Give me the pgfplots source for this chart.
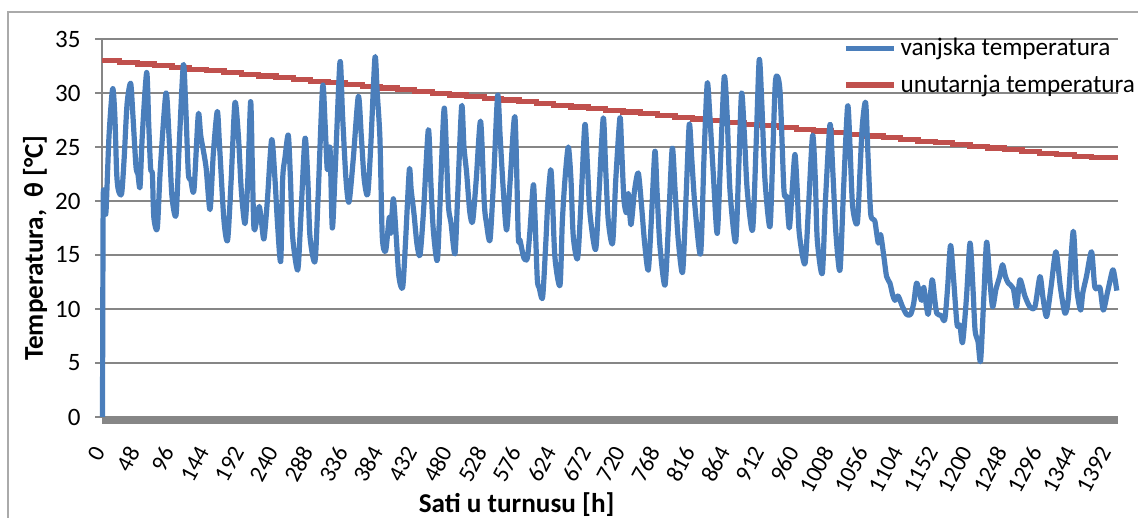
\documentclass[border=0pt]{standalone}
\usepackage{fontspec}
\setmainfont{Carlito}
\usepackage{pgfplots}
\pgfplotsset{compat=1.18}
\definecolor{cblue}{HTML}{4A7EBB}
\definecolor{cred}{HTML}{C0504D}
\definecolor{cgrid}{HTML}{868686}
\begin{document}
\begin{tikzpicture}
\useasboundingbox (0,0) rectangle (569pt,259pt);
\begin{axis}[
  at={(51.25pt,50.5pt)}, anchor=south west,
  scale only axis, width=507.5pt, height=189pt,
  xmin=0, xmax=1404, ymin=0, ymax=35,
  axis lines*=left,
  x axis line style={draw=cgrid, line width=3.6pt, yshift=-1.8pt},
  y axis line style={draw=cgrid, line width=1pt},
  ytick={0,5,...,35},
  xtick={0,48,...,1392},
  ymajorgrids,
  grid style={draw=cgrid, line width=1pt},
  tick align=outside,
  major tick length=3.5pt,
  xtick style={draw=none},
  ytick style={draw=cgrid, line width=1pt},
  /pgf/number format/assume math mode=true,
  /pgf/number format/1000 sep={},
  yticklabel style={font=\fontsize{12.5}{14}\selectfont, text=black, xshift=-4pt},
  xticklabel style={font=\fontsize{11.8}{13}\selectfont, text=black, rotate=62, anchor=east},
  xticklabel shift=9pt,
  xlabel={\textbf{Sati u turnusu [h]}},
  ylabel={\textbf{Temperatura,\ \ θ [°C]}},
  label style={font=\fontsize{13.6}{15}\selectfont},
  xlabel style={at={(axis description cs:0.408,0)}, anchor=center, yshift=-44pt},
  ylabel style={at={(axis description cs:-0.0665,0.447)}, anchor=center},
  legend style={at={(axis description cs:0.7295,1.0135)}, anchor=north west,
    draw=none, fill=none, row sep=4pt, inner sep=0pt,
    font=\fontsize{12.6}{15}\selectfont},
  legend cell align=left,
  reverse legend,
  legend image code/.code={\draw[#1, line width=2.6pt] (0pt,0pt) -- (24pt,0pt);},
  clip=false,
]
\addplot[cred, line width=2.6pt, const plot] coordinates {
(0,33.00) (24,32.84) (48,32.68) (72,32.52) (96,32.36) (120,32.21) (144,32.05) (168,31.89)
(192,31.73) (216,31.57) (240,31.41) (264,31.25) (288,31.09) (312,30.94) (336,30.78) (360,30.62)
(384,30.46) (408,30.30) (432,30.14) (456,29.98) (480,29.82) (504,29.67) (528,29.51) (552,29.35)
(576,29.19) (600,29.03) (624,28.87) (648,28.71) (672,28.55) (696,28.39) (720,28.24) (744,28.08)
(768,27.92) (792,27.76) (816,27.60) (840,27.44) (864,27.28) (888,27.12) (912,26.97) (936,26.81)
(960,26.65) (984,26.49) (1008,26.33) (1032,26.17) (1056,26.01) (1080,25.85) (1104,25.70) (1128,25.54)
(1152,25.38) (1176,25.22) (1200,25.06) (1224,24.90) (1248,24.74) (1272,24.58) (1296,24.43) (1320,24.27)
(1344,24.11) (1368,24.00) (1392,24.00) (1404,24.00)
};
\addlegendentry{unutarnja temperatura}
\addplot[cblue, line width=2.6pt, smooth, tension=0.45, line join=round] coordinates {
(0,0) (1,20.2) (3,19.0) (5,19.2) (9,26) (14,30.4) (17,28) (19.6,22.6) (22,21) (26.5,20.7) (30,24) (34,29)
(38.9,30.9) (42,28) (46.3,23.2) (49,22.5) (51.9,21.3) (55,26) (61.1,31.9) (64,27) (66.6,23.0) (69,22.5)
(71,18.5) (75.8,17.5) (80,23) (87.8,30.0) (92,26) (96,20.5) (101.7,18.7) (106,25) (111.8,32.6) (115,29)
(118.7,22.6) (122,22) (126.5,21.0) (132.5,28.0) (136,26) (143.1,23.2) (148.7,19.2) (153.3,24.4) (158.8,28.3)
(162,25) (168,18.2) (173.1,16.4) (178,22) (183.2,29.1) (188,26) (192,21) (197.1,17.9) (201,22) (204.9,29.2)
(207,24) (209.5,17.5) (214,18.5) (216.9,19.5) (220,18) (223.4,16.5) (228,20) (234,25.7) (238.6,22) (242,18)
(246.5,14.4) (249.2,22.0) (252.4,24.0) (257,26.1) (260,22) (263,16.7) (270,13.6) (274,18) (280.1,25.8)
(284,22) (287,16.7) (293.9,14.4) (298,20) (304.5,30.6) (308,27) (311,22.9) (314.7,24.9) (317.9,17.5)
(322,23) (328.5,32.9) (332,28) (336.8,22.0) (341,19.9) (347,24) (353.9,29.7) (358,26) (362,22) (366.8,20.6)
(371,25) (376.9,33.3) (380,30) (383.8,25.7) (387,16.7) (391.7,15.4) (396.7,18.5) (398.6,17.0) (402.3,20.2)
(406,17) (410,13) (415.2,12.0) (419,16) (424.4,22.9) (427,21) (430.9,18.8) (435,16) (439.2,15.0) (444,19)
(450.7,26.6) (454,22) (457.6,17.3) (463.1,14.5) (467,20) (472.8,28.6) (478.3,19.8) (482,18) (487.5,15.1)
(491,20) (496.8,28.8) (500,25) (503.7,22.6) (508,19) (512,18.1) (517,22) (523,27.4) (528.1,19.8) (531,18)
(536,16.4) (541,22) (546.6,29.8) (550,26) (554.4,21.0) (559,17.3) (564,22) (570.5,27.8) (575.1,16.8)
(577.4,16.4) (583,14.7) (587.6,14.7) (591,17) (595.9,21.5) (598,19) (601.4,12.8) (604,12) (608.8,11.1)
(613.4,16.4) (616,20) (619.9,22.9) (622,21) (625.8,14.8) (632.8,12.2) (636,18) (639.7,22.0) (644.3,25.0)
(648,22) (651.2,16.7) (657.2,14.7) (662,20) (667.3,27.1) (671,23) (674.3,18.8) (682.1,15.5) (687,21)
(692.7,27.7) (696,23) (699.6,18.2) (705.6,16.1) (710,22) (715.7,27.7) (718,25) (721.3,20.1) (725,18.9)
(727.3,20.7) (731,17.8) (736,21) (741.1,22.6) (745.7,19.5) (750,16) (754.9,13.6) (759,18) (764.1,24.6)
(767,21) (771,15.9) (778,12.2) (783,18) (788.1,24.9) (792,21) (796.4,16.4) (802.4,13.4) (807,20)
(811.6,27.1) (815,24) (819.5,19.5) (827.3,15.1) (832,24) (836.5,30.9) (840,28) (844.8,22.6) (850.3,17.0)
(855,24) (860,31.5) (864,28) (867.9,21.0) (875.7,16.2) (880,23) (884,30.0) (888,26) (891.8,21.0)
(899.2,17.3) (904,25) (908.4,33.1) (912,29) (916.3,22.0) (923.2,17.6) (927,24) (931,31.2) (937,30.3)
(942.6,21.0) (946.3,20.4) (950,17.5) (954,21) (957.8,24.3) (961,21) (963.8,17.0) (971.7,14.2) (977,20)
(982.3,26.1) (986,22) (988.7,16.4) (995.6,13.3) (1000,20) (1006.3,27.1) (1010,23) (1014.5,17.0)
(1020.1,13.6) (1025,21) (1030.7,28.8) (1034,25) (1037.6,19.5) (1044,17.9) (1047.7,22.6) (1051,27)
(1055.6,29.1) (1059,24) (1062.5,18.9) (1066,18.3) (1068.5,18.1) (1073.1,16.1) (1076.3,16.9) (1080.9,14.8)
(1084.6,13.0) (1089.2,12.4) (1093,11.3) (1096.1,10.8) (1100,11.2) (1102.1,11.0) (1106.7,10.2) (1112.3,9.5)
(1117.8,9.5) (1122,10.5) (1126,12.4) (1130,11.5) (1133,10.8) (1136,12.0) (1142,9.5) (1147.5,12.7)
(1151,11) (1154,9.6) (1160,9.4) (1165,9.0) (1169,12) (1173,15.9) (1177,13) (1182,8.6) (1186,8.5)
(1189.7,6.9) (1195,11) (1200,16.1) (1204,12) (1207,8.0) (1211,7) (1214.6,5.2) (1219,11) (1222.9,16.2)
(1227,13) (1231.2,10.2) (1235.8,11.8) (1241,13) (1245,14.1) (1249,13) (1252.9,12.4) (1259.8,11.9)
(1264.4,10.2) (1269,12.7) (1275.9,11.2) (1282.8,10.2) (1289.8,10.2) (1296.7,13.0) (1301,11) (1305.9,9.3)
(1312,12) (1318.8,15.3) (1325,12) (1331.3,9.6) (1336,11) (1342.8,17.2) (1347.4,12.0) (1352.9,9.9)
(1356,11.5) (1361,13) (1368.1,15.3) (1372.7,12.0) (1379.6,12.0) (1384.3,9.9) (1390,11.5) (1397.2,13.6)
(1400,13) (1403,11.7)
};
\addlegendentry{vanjska temperatura}
\end{axis}
\draw[cgrid!70, line width=0.6pt] (4pt,0pt) -- (4pt,253pt) -- (569pt,253pt);
\end{tikzpicture}
\end{document}
